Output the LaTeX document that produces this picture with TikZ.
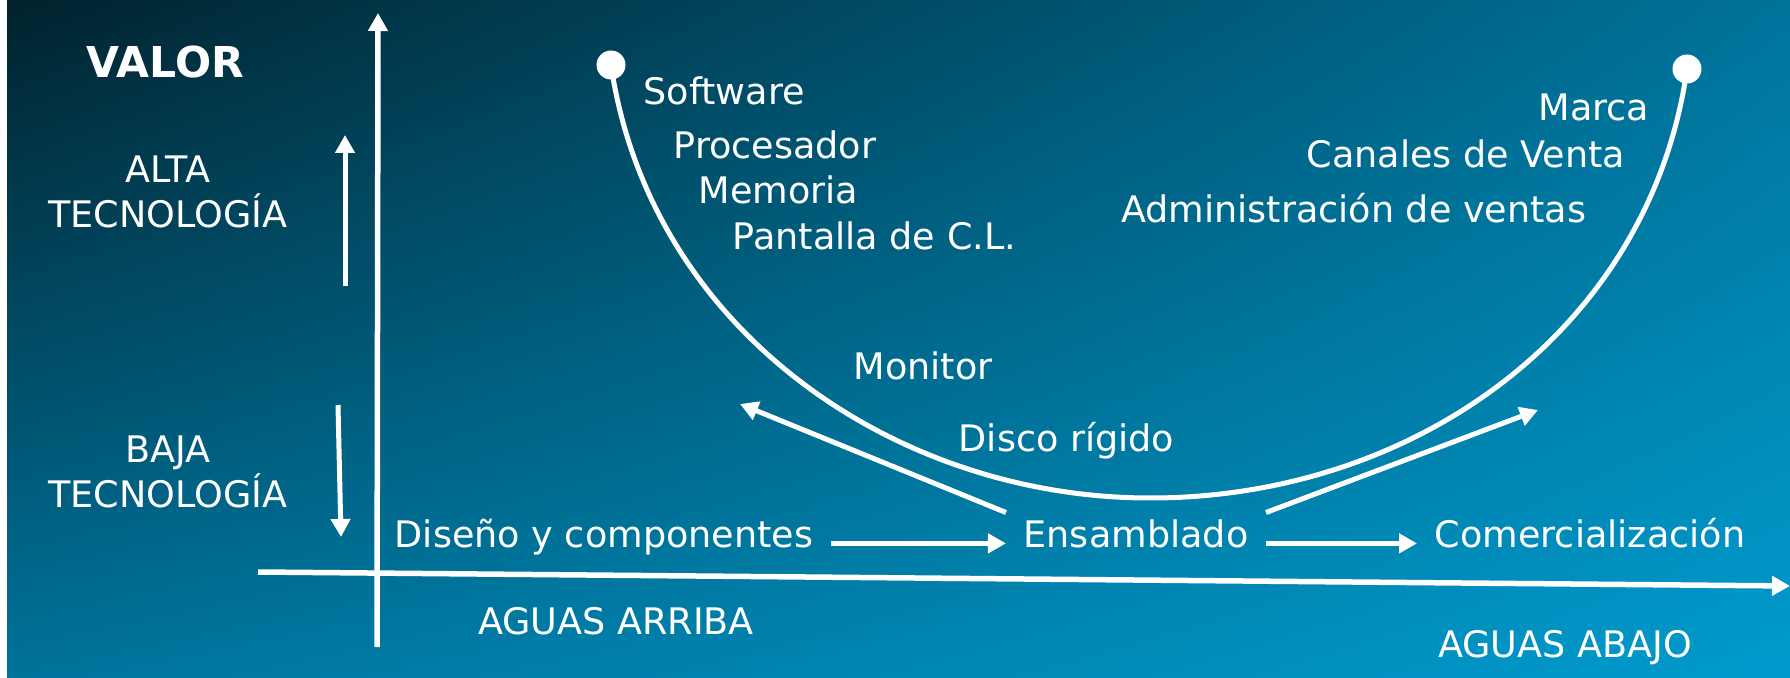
\documentclass[tikz,border=0pt]{standalone}
\usepackage{fontspec}
\setmainfont{DejaVu Sans}
\usetikzlibrary{arrows.meta,shadings}
\definecolor{fondoA}{HTML}{01222D}
\definecolor{fondoB}{HTML}{00739B}
\definecolor{fondoC}{HTML}{009BCD}
\begin{document}
\begin{tikzpicture}[x=0.1mm,y=-0.1mm,
    every node/.style={text=white,inner sep=0pt,font=\fontsize{10.4}{12.8}\selectfont},
    flecha/.style={draw=white,line width=0.5mm,-{Triangle[length=1.8mm,width=1.9mm]}},
    eje/.style={flecha,line width=0.55mm},
    curva/.style={draw=white,line width=0.5mm},
    punto/.style={circle,fill=white,minimum size=2.9mm},
    etapa/.style={inner xsep=1.7mm,inner ysep=0.7mm,anchor=base}]
  \useasboundingbox (0,0) rectangle (1790,678);
  \fill[white] (0,0) rectangle (1790,678);
  \shade[upper left=fondoA,upper right=fondoB,lower left=fondoB,lower right=fondoC] (7,0) rectangle (1790,678);

  % ejes
  \coordinate (vbajo) at (377,647);
  \coordinate (valto) at (378,13);
  \coordinate (hizq) at (258,572);
  \coordinate (hder) at (1790,586);
  \draw[eje] (vbajo) -- (valto);
  \draw[eje] (hizq) -- (hder);

  \node[font=\fontsize{12.1}{14}\selectfont\bfseries,anchor=base west] (valor) at (86,78) {VALOR};
  \node[align=center] (alta) at (168,192) {ALTA\\TECNOLOGÍA};
  \node[align=center] (baja) at (168,472) {BAJA\\TECNOLOGÍA};
  \coordinate (sube0) at (345,286);
  \coordinate (sube1) at (345,135);
  \coordinate (desc0) at (338,405);
  \coordinate (desc1) at (341,537);
  \draw[flecha] (sube0) -- (sube1);
  \draw[flecha] (desc0) -- (desc1);

  % curva de valor
  \node[punto] (izq) at (611,65) {};
  \node[punto] (der) at (1687,69) {};
  \coordinate (fondo) at (1150,498);
  \draw[curva] (izq.center) .. controls (650,330) and (895,498) .. (fondo)
    .. controls (1415,498) and (1650,330) .. (der.center);

  \foreach \nombre/\x/\y/\texto in {soft/643/105/Software,proc/673/159/Procesador,mem/698/204/Memoria,pant/732/250/Pantalla de C.L.,moni/853/380/Monitor,disco/958/452/Disco rígido}
    \node[anchor=base west] (\nombre) at (\x,\y) {\texto};
  \foreach \nombre/\x/\y/\texto in {marca/1650/121/Marca,canal/1626/168/Canales de Venta,admin/1587/223/Administración de ventas}
    \node[anchor=base east] (\nombre) at (\x,\y) {\texto};

  % cadena
  \node[etapa] (diseno) at (604,548) {Diseño y componentes};
  \node[etapa] (ensam) at (1136,548) {Ensamblado};
  \node[etapa] (comer) at (1590,548) {Comercialización};
  \draw[flecha] ([yshift=-0.5mm]diseno.mid east) -- ([yshift=-0.5mm]ensam.mid west);
  \draw[flecha] ([yshift=-0.5mm]ensam.mid east) -- ([yshift=-0.5mm]comer.mid west);
  \coordinate (atras) at (740,404);
  \coordinate (adelante) at (1538,410);
  \draw[flecha] (ensam.north west) -- (atras);
  \draw[flecha] (ensam.north east) -- (adelante);

  \node[anchor=base] (arriba) at (616,634) {AGUAS ARRIBA};
  \node[anchor=base] (abajo) at (1565,657) {AGUAS ABAJO};
\end{tikzpicture}
\end{document}
